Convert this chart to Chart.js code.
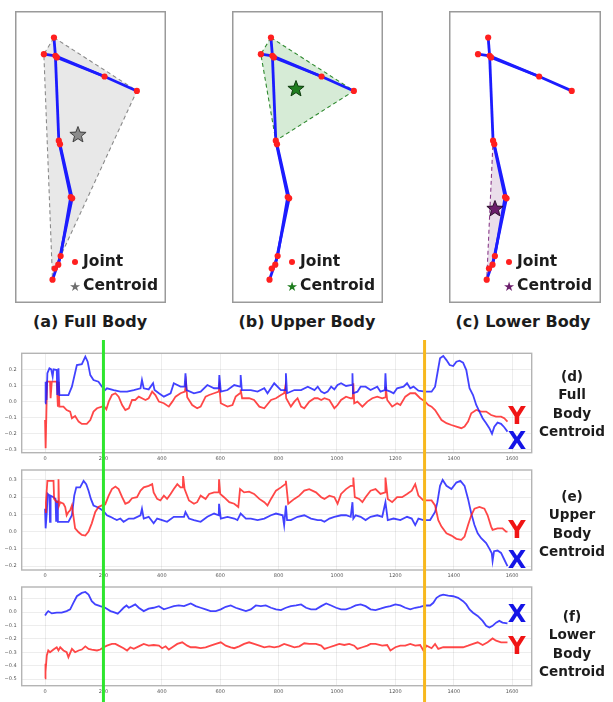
<!DOCTYPE html>
<html>
<head>
<meta charset="utf-8">
<script src="https://cdn.jsdelivr.net/npm/chart.js@4.4.1/dist/chart.umd.min.js"></script>
<style>
  html, body { margin: 0; padding: 0; background: #fff; }
  body { width: 613px; height: 702px; position: relative; overflow: hidden;
         font-family: "DejaVu Sans", sans-serif; color: #1c1c1c; }
  canvas { position: absolute; }
  .cap { position: absolute; font-weight: 700; font-size: 16px; white-space: nowrap;
         transform: translate(-50%, -50%); line-height: 1; }
  .leg { position: absolute; font-weight: 700; font-size: 15.5px; white-space: nowrap;
         line-height: 1; transform: translateY(-50%); }
  .dot { position: absolute; width: 6px; height: 6px; border-radius: 50%; background: #ff1f1f;
         transform: translate(-50%, -50%); }
  .star { position: absolute; font-size: 13px; line-height: 1; transform: translate(-50%, -50%); }
  .title { position: absolute; font-weight: 700; font-size: 13.6px; line-height: 18.3px;
           text-align: center; width: 90px; transform: translateX(-50%); }
  .axisTag { position: absolute; font-weight: 700; font-size: 24px; line-height: 1;
             transform: translate(-50%, -50%); }
</style>
</head>
<body>

<canvas id="skelA" width="151" height="292" style="left:15px;top:11px"></canvas>
<canvas id="skelB" width="151" height="292" style="left:232px;top:11px"></canvas>
<canvas id="skelC" width="152" height="292" style="left:449px;top:11px"></canvas>

<canvas id="seriesD" width="545" height="122" style="left:0;top:340px"></canvas>
<canvas id="seriesE" width="545" height="117" style="left:0;top:462px"></canvas>
<canvas id="seriesF" width="545" height="123" style="left:0;top:579px"></canvas>

<div class="cap" style="left:90px;top:322px">(a) Full Body</div>
<div class="cap" style="left:307px;top:322px">(b) Upper Body</div>
<div class="cap" style="left:523px;top:322px">(c) Lower Body</div>

<div id="legends"></div>

<div class="axisTag" style="left:517px;top:416px;color:#f01414">Y</div>
<div class="axisTag" style="left:517px;top:441px;color:#1414e6">X</div>
<div class="title" style="left:572px;top:367px">(d)<br>Full<br>Body<br>Centroid</div>

<div class="axisTag" style="left:517px;top:530px;color:#f01414">Y</div>
<div class="axisTag" style="left:517px;top:560px;color:#1414e6">X</div>
<div class="title" style="left:572px;top:487px">(e)<br>Upper<br>Body<br>Centroid</div>

<div class="axisTag" style="left:517px;top:614px;color:#1414e6">X</div>
<div class="axisTag" style="left:517px;top:646px;color:#f01414">Y</div>
<div class="title" style="left:572px;top:607px">(f)<br>Lower<br>Body<br>Centroid</div>

<script>
// ---------- skeleton (normalised image coordinates, y downwards) ----------
const jointX = [0.221, 0.144, 0.232, 0.243, 0.607, 0.854, 0.258, 0.267, 0.349, 0.360, 0.272, 0.254, 0.227, 0.210];
const jointY = [0.061, 0.122, 0.128, 0.134, 0.204, 0.257, 0.440, 0.453, 0.647, 0.652, 0.864, 0.896, 0.910, 0.951];
// bone chains as joint indices
const boneChains = [[0, 2], [1, 2, 4, 5], [3, 4], [2, 6], [6, 8, 10, 13], [7, 9, 11, 12]];
// convex hulls (joint indices) for each body part
const hullFull = [0, 5, 10, 13, 1];
const hullUpper = [0, 5, 6, 1];
const hullLower = [6, 9, 10, 13];
// centroids [x, y]
const centroidFull = [0.404, 0.419];
const centroidUpper = [0.412, 0.250];
const centroidLower = [0.272, 0.691];

// ---------- centroid trajectories: [frame, value] ----------
const frameTicks = [0, 200, 400, 600, 800, 1000, 1200, 1400, 1600];
const frameTickLabels = ['0', '200', '400', '600', '800', '1000', '1200', '1400', '1600'];
const markerFrames = [200, 1300];

const fullTicks = [-0.3, -0.2, -0.1, 0, 0.1, 0.2];
const fullTickLabels = ['\u22120.3', '\u22120.2', '\u22120.1', '0.0', '0.1', '0.2'];
const upperTicks = [-0.2, -0.1, 0, 0.1, 0.2, 0.3];
const upperTickLabels = ['\u22120.2', '\u22120.1', '0.0', '0.1', '0.2', '0.3'];
const lowerTicks = [-0.5, -0.4, -0.3, -0.2, -0.1, 0, 0.1];
const lowerTickLabels = ['\u22120.5', '\u22120.4', '\u22120.3', '\u22120.2', '\u22120.1', '0.0', '0.1'];

const fullX = [[0,-0.010],[2,0.124],[5,0.010],[8,0.176],[15,0.207],[21,0.200],[26,0.155],[29,0.200],[40,0.196],[42,0.041],[46,0.207],[49,0.041],[63,0.041],[80,0.041],[92,0.093],[109,0.227],[126,0.233],[138,0.279],[146,0.248],[155,0.165],[166,0.134],[183,0.124],[195,0.093],[206,0.072],[212,0.083],[235,0.072],[258,0.062],[281,0.062],[304,0.072],[327,0.083],[332,0.134],[338,0.083],[355,0.076],[370,0.114],[375,0.072],[390,0.052],[407,0.031],[430,0.052],[441,0.114],[464,0.093],[478,0.093],[481,0.176],[485,0.072],[510,0.052],[533,0.062],[556,0.103],[579,0.083],[595,0.083],[597,0.165],[602,0.062],[625,0.072],[648,0.103],[668,0.093],[670,0.165],[674,0.072],[705,0.072],[728,0.062],[751,0.083],[762,0.052],[785,0.114],[808,0.072],[823,0.072],[825,0.176],[829,0.052],[854,0.072],[877,0.072],[900,0.093],[923,0.072],[934,0.093],[946,0.062],[957,0.052],[968,0.062],[980,0.093],[991,0.076],[1002,0.103],[1014,0.114],[1031,0.097],[1047,0.103],[1052,0.103],[1053,0.176],[1055,0.052],[1070,0.062],[1081,0.093],[1098,0.093],[1115,0.072],[1138,0.093],[1149,0.062],[1164,0.072],[1166,0.176],[1169,0.072],[1183,0.062],[1194,0.052],[1206,0.083],[1228,0.093],[1240,0.114],[1251,0.083],[1262,0.093],[1279,0.068],[1302,0.062],[1324,0.062],[1336,0.093],[1344,0.176],[1353,0.269],[1364,0.283],[1375,0.258],[1386,0.227],[1398,0.221],[1409,0.248],[1420,0.254],[1432,0.242],[1443,0.196],[1454,0.083],[1466,0.041],[1477,-0.021],[1488,-0.062],[1499,-0.103],[1511,-0.134],[1522,-0.165],[1531,-0.200],[1539,-0.155],[1550,-0.130],[1562,-0.138],[1573,-0.159],[1584,-0.186]];

const fullY = [[0,-0.114],[2,-0.289],[5,-0.031],[7,0.124],[17,0.124],[19,0.021],[23,0.124],[40,0.124],[44,-0.031],[47,0.124],[49,-0.031],[63,-0.031],[74,-0.052],[86,-0.062],[92,-0.103],[103,-0.089],[115,-0.124],[126,-0.138],[143,-0.138],[155,-0.114],[166,-0.062],[178,-0.041],[195,-0.031],[203,-0.031],[210,-0.048],[218,0.000],[229,0.041],[241,0.052],[252,0.031],[264,-0.021],[275,-0.052],[287,-0.041],[298,0.010],[309,0.010],[321,0.031],[332,0.021],[344,0.010],[355,0.021],[367,0.062],[378,0.041],[390,0.000],[407,-0.010],[424,-0.031],[436,0.000],[447,0.031],[464,0.052],[479,0.062],[483,0.114],[487,0.027],[504,-0.021],[521,-0.041],[533,-0.031],[550,0.031],[562,0.041],[579,0.052],[595,0.062],[597,0.093],[602,-0.010],[625,-0.031],[642,-0.021],[653,0.031],[668,0.052],[670,0.076],[675,0.021],[699,0.021],[716,0.010],[734,-0.031],[751,-0.041],[774,0.010],[791,0.021],[808,0.041],[819,0.052],[823,0.093],[826,0.021],[842,-0.031],[854,0.000],[865,0.021],[877,-0.031],[888,-0.041],[905,0.000],[923,0.021],[934,0.021],[946,0.010],[957,0.021],[974,0.010],[991,-0.041],[1002,-0.021],[1014,0.010],[1031,0.031],[1047,0.021],[1054,0.021],[1056,0.114],[1059,-0.010],[1070,0.000],[1087,-0.031],[1104,0.000],[1121,0.021],[1138,0.031],[1155,0.021],[1165,0.027],[1167,0.093],[1172,0.010],[1189,-0.031],[1206,-0.010],[1217,-0.021],[1234,0.031],[1251,0.052],[1268,0.052],[1285,0.021],[1302,0.000],[1313,-0.021],[1324,-0.031],[1336,-0.052],[1347,-0.083],[1358,-0.114],[1375,-0.134],[1392,-0.145],[1409,-0.155],[1426,-0.165],[1437,-0.155],[1449,-0.124],[1460,-0.072],[1477,-0.052],[1494,-0.062],[1511,-0.062],[1528,-0.083],[1545,-0.093],[1562,-0.093],[1573,-0.103],[1584,-0.124]];

const upperX = [[0,0.133],[2,0.019],[6,0.114],[9,0.219],[15,0.209],[17,0.057],[19,0.209],[29,0.200],[36,0.190],[38,0.057],[41,0.181],[44,0.057],[69,0.057],[80,0.057],[92,0.095],[100,0.209],[107,0.257],[120,0.257],[132,0.295],[141,0.276],[149,0.238],[157,0.190],[166,0.152],[178,0.143],[189,0.133],[201,0.118],[212,0.095],[224,0.086],[235,0.076],[246,0.067],[258,0.076],[269,0.057],[287,0.076],[304,0.076],[327,0.095],[332,0.133],[338,0.076],[355,0.086],[372,0.048],[384,0.076],[401,0.067],[418,0.057],[441,0.086],[476,0.086],[481,0.114],[493,0.076],[510,0.067],[533,0.057],[556,0.086],[579,0.105],[595,0.095],[596,0.162],[602,0.076],[625,0.086],[648,0.076],[659,0.067],[670,0.105],[688,0.076],[705,0.076],[728,0.067],[751,0.076],[774,0.095],[791,0.105],[814,0.095],[819,0.038],[825,0.152],[829,0.067],[842,0.067],[865,0.086],[888,0.095],[911,0.076],[934,0.067],[946,0.067],[957,0.057],[974,0.076],[991,0.086],[1014,0.095],[1031,0.095],[1047,0.086],[1053,0.171],[1056,0.076],[1064,0.095],[1081,0.086],[1098,0.067],[1115,0.086],[1138,0.095],[1155,0.086],[1166,0.171],[1174,0.067],[1194,0.076],[1217,0.067],[1240,0.086],[1256,0.076],[1268,0.038],[1279,0.076],[1296,0.067],[1319,0.067],[1336,0.114],[1344,0.171],[1353,0.266],[1362,0.300],[1375,0.266],[1392,0.247],[1409,0.285],[1423,0.295],[1437,0.266],[1449,0.190],[1460,0.105],[1471,0.038],[1482,-0.010],[1494,-0.038],[1511,-0.067],[1522,-0.099],[1530,-0.124],[1533,-0.171],[1538,-0.114],[1550,-0.110],[1562,-0.124],[1573,-0.162],[1584,-0.200]];

const upperY = [[0,0.114],[3,0.171],[8,0.295],[29,0.295],[31,0.190],[40,0.171],[45,0.171],[46,0.304],[48,0.152],[52,0.171],[63,0.162],[69,0.143],[74,0.095],[80,0.114],[86,0.124],[92,0.152],[103,0.019],[115,-0.004],[126,-0.019],[138,-0.023],[149,0.000],[160,0.048],[172,0.114],[183,0.143],[195,0.152],[206,0.158],[218,0.209],[229,0.247],[241,0.262],[252,0.247],[264,0.200],[275,0.162],[287,0.171],[298,0.194],[315,0.200],[327,0.238],[338,0.257],[355,0.266],[367,0.276],[372,0.228],[384,0.190],[395,0.181],[407,0.209],[418,0.190],[430,0.219],[441,0.247],[453,0.276],[464,0.257],[472,0.257],[473,0.323],[478,0.247],[493,0.181],[510,0.162],[521,0.171],[533,0.209],[550,0.190],[562,0.219],[579,0.228],[595,0.228],[596,0.304],[600,0.219],[613,0.200],[631,0.171],[648,0.162],[662,0.143],[668,0.247],[682,0.228],[699,0.232],[716,0.219],[734,0.190],[751,0.171],[762,0.152],[774,0.190],[791,0.238],[808,0.257],[823,0.276],[825,0.295],[833,0.162],[854,0.190],[871,0.209],[888,0.238],[905,0.247],[928,0.228],[946,0.200],[957,0.190],[974,0.209],[991,0.200],[1002,0.162],[1014,0.219],[1031,0.247],[1047,0.266],[1055,0.266],[1056,0.314],[1061,0.200],[1076,0.190],[1087,0.171],[1098,0.200],[1115,0.238],[1132,0.247],[1149,0.219],[1165,0.228],[1166,0.314],[1174,0.190],[1189,0.171],[1206,0.200],[1223,0.200],[1240,0.219],[1256,0.238],[1268,0.276],[1279,0.209],[1296,0.181],[1313,0.181],[1324,0.181],[1336,0.152],[1347,0.067],[1358,0.029],[1375,-0.010],[1392,-0.023],[1409,-0.042],[1426,-0.048],[1437,-0.029],[1449,0.038],[1460,0.095],[1471,0.133],[1488,0.143],[1505,0.133],[1516,0.095],[1528,0.029],[1533,0.010],[1550,0.019],[1567,0.019],[1579,0.000],[1584,0.000]];

const lowerX = [[0,-0.025],[6,-0.005],[11,0.007],[23,-0.010],[40,-0.005],[57,-0.005],[74,0.007],[86,0.020],[97,0.069],[109,0.118],[126,0.143],[138,0.150],[149,0.130],[160,0.081],[172,0.057],[189,0.044],[206,0.032],[224,0.007],[235,0.000],[249,-0.012],[258,0.007],[269,0.032],[279,0.049],[287,0.032],[298,0.044],[309,0.057],[321,0.032],[338,0.007],[355,0.025],[372,0.032],[390,0.044],[407,0.020],[424,0.032],[441,0.044],[458,0.049],[476,0.044],[499,0.064],[516,0.044],[533,0.032],[550,0.020],[567,0.007],[585,0.007],[602,0.020],[619,0.039],[636,0.049],[653,0.032],[670,0.020],[688,0.007],[705,0.020],[722,0.049],[739,0.044],[756,0.049],[774,0.032],[791,0.020],[808,0.015],[825,0.032],[842,0.044],[860,0.049],[877,0.057],[894,0.032],[911,0.020],[928,0.020],[946,0.044],[963,0.064],[980,0.049],[997,0.032],[1014,0.020],[1031,0.020],[1047,0.032],[1064,0.049],[1081,0.057],[1098,0.044],[1115,0.020],[1132,0.015],[1149,0.025],[1166,0.037],[1183,0.044],[1200,0.057],[1217,0.049],[1234,0.032],[1251,0.020],[1268,0.032],[1285,0.039],[1302,0.049],[1319,0.049],[1330,0.069],[1341,0.106],[1353,0.123],[1364,0.130],[1381,0.123],[1398,0.118],[1415,0.106],[1432,0.081],[1443,0.057],[1454,0.020],[1466,-0.005],[1482,-0.029],[1499,-0.066],[1511,-0.103],[1522,-0.115],[1533,-0.103],[1545,-0.079],[1556,-0.066],[1567,-0.079],[1584,-0.084]];

const lowerY = [[0,-0.496],[1,-0.386],[2,-0.447],[6,-0.324],[11,-0.287],[17,-0.300],[29,-0.280],[40,-0.263],[46,-0.287],[52,-0.263],[63,-0.287],[74,-0.300],[80,-0.337],[92,-0.275],[103,-0.300],[115,-0.287],[126,-0.280],[138,-0.256],[149,-0.275],[160,-0.280],[178,-0.287],[189,-0.280],[201,-0.263],[212,-0.251],[229,-0.238],[241,-0.238],[252,-0.251],[269,-0.270],[281,-0.287],[292,-0.263],[304,-0.275],[321,-0.256],[338,-0.238],[355,-0.251],[372,-0.246],[390,-0.251],[401,-0.270],[413,-0.256],[424,-0.280],[436,-0.263],[453,-0.238],[470,-0.226],[487,-0.251],[499,-0.263],[516,-0.263],[533,-0.270],[550,-0.263],[567,-0.251],[585,-0.238],[602,-0.226],[619,-0.251],[636,-0.263],[648,-0.270],[665,-0.256],[682,-0.238],[699,-0.226],[716,-0.238],[734,-0.251],[751,-0.263],[768,-0.256],[785,-0.263],[802,-0.256],[819,-0.238],[837,-0.251],[854,-0.263],[871,-0.256],[888,-0.233],[905,-0.238],[928,-0.238],[946,-0.251],[957,-0.275],[974,-0.263],[991,-0.251],[1008,-0.238],[1025,-0.246],[1042,-0.238],[1059,-0.251],[1070,-0.275],[1087,-0.263],[1104,-0.251],[1115,-0.238],[1132,-0.238],[1155,-0.251],[1172,-0.246],[1183,-0.287],[1200,-0.263],[1217,-0.251],[1234,-0.251],[1251,-0.238],[1268,-0.251],[1285,-0.246],[1296,-0.287],[1307,-0.251],[1324,-0.270],[1336,-0.238],[1347,-0.275],[1364,-0.263],[1398,-0.263],[1432,-0.263],[1449,-0.251],[1466,-0.238],[1482,-0.226],[1499,-0.246],[1516,-0.226],[1533,-0.197],[1545,-0.214],[1562,-0.226],[1584,-0.226]];

// ---------- styling ----------
const BLUE = 'rgba(25,25,255,0.82)';
const RED = 'rgba(255,25,25,0.80)';
const markerColors = ['#2ee62e', '#f7b81e'];

// ---------- skeleton panels ----------
function starImage(fill, stroke) {
  const c = document.createElement('canvas');
  c.width = 22; c.height = 22;
  const g = c.getContext('2d');
  const R = 8.5, r = 3.6;
  g.beginPath();
  for (let i = 0; i < 10; i++) {
    const a = -Math.PI / 2 + i * Math.PI / 5;
    const rad = i % 2 === 0 ? R : r;
    const px = 11 + rad * Math.cos(a), py = 11 + rad * Math.sin(a);
    if (i === 0) g.moveTo(px, py); else g.lineTo(px, py);
  }
  g.closePath();
  g.fillStyle = fill; g.fill();
  g.lineWidth = 1; g.strokeStyle = stroke; g.stroke();
  return c;
}

const jointPt = i => ({ x: jointX[i], y: jointY[i] });

const panelFrame = {
  id: 'panelFrame',
  afterDraw(chart) {
    const { ctx, width, height } = chart;
    ctx.save();
    ctx.strokeStyle = '#9a9a9a';
    ctx.lineWidth = 1.5;
    ctx.strokeRect(0.75, 0.75, width - 1.5, height - 1.5);
    ctx.restore();
  }
};

function skeletonChart(id, hull, hullFill, hullLine, centroid, starFill, starStroke) {
  const datasets = [];
  datasets.push({
    label: 'Centroid', data: [{ x: centroid[0], y: centroid[1] }], showLine: false,
    pointStyle: starImage(starFill, starStroke), pointRadius: 9
  });
  datasets.push({
    label: 'Joint', data: jointX.map((_, i) => jointPt(i)), showLine: false,
    pointRadius: 3.1, pointBackgroundColor: '#ff1f1f', pointBorderWidth: 0, borderColor: '#ff1f1f'
  });
  boneChains.forEach(ch => datasets.push({
    label: 'bone', data: ch.map(jointPt), borderColor: '#1c1cff', borderWidth: 2.8,
    pointRadius: 0, tension: 0
  }));
  const hullPts = hull.map(jointPt);
  hullPts.push(jointPt(hull[0]));
  datasets.push({
    label: 'hull', data: hullPts, borderColor: hullLine, borderWidth: 1.1,
    borderDash: [4, 3], backgroundColor: hullFill, fill: 'shape', pointRadius: 0, tension: 0
  });
  return new Chart(document.getElementById(id), {
    type: 'line',
    data: { datasets },
    options: {
      responsive: false, animation: false, devicePixelRatio: 1,
      layout: { padding: 0 },
      plugins: { legend: { display: false }, tooltip: { enabled: false } },
      scales: {
        x: { type: 'linear', min: 0, max: 1, display: false },
        y: { type: 'linear', min: 0, max: 1, reverse: true, display: false }
      }
    },
    plugins: [panelFrame]
  });
}

skeletonChart('skelA', hullFull, 'rgba(150,150,150,0.22)', '#8a8a8a', centroidFull, '#8c8c8c', '#3c3c3c');
skeletonChart('skelB', hullUpper, 'rgba(70,165,70,0.22)', '#2f8a2f', centroidUpper, '#1f7d1f', '#0c3a0c');
skeletonChart('skelC', hullLower, 'rgba(150,90,150,0.2)', '#8a3c8a', centroidLower, '#6b1d6b', '#2a0a2a');

// legends inside the skeleton panels
const legendHost = document.getElementById('legends');
[[15, '#6e6e6e'], [232, '#1f7d1f'], [449, '#6b1d6b']].forEach(([left, col]) => {
  legendHost.insertAdjacentHTML('beforeend',
    `<div class="dot" style="left:${left + 60}px;top:262px"></div>` +
    `<div class="leg" style="left:${left + 68}px;top:262px">Joint</div>` +
    `<div class="star" style="left:${left + 60}px;top:286px;color:${col}">\u2605</div>` +
    `<div class="leg" style="left:${left + 68}px;top:286px">Centroid</div>`);
});

// ---------- trajectory panels ----------
const seriesFrame = {
  id: 'seriesFrame',
  afterDraw(chart) {
    const { ctx, chartArea: a } = chart;
    ctx.save();
    ctx.strokeStyle = '#b4b4b4';
    ctx.lineWidth = 1.4;
    ctx.strokeRect(a.left, a.top, a.right - a.left, a.bottom - a.top);
    const xs = chart.scales.x;
    markerFrames.forEach((f, i) => {
      const px = xs.getPixelForValue(f);
      ctx.strokeStyle = markerColors[i];
      ctx.lineWidth = 3;
      ctx.beginPath();
      ctx.moveTo(px, 0);
      ctx.lineTo(px, chart.height);
      ctx.stroke();
    });
    ctx.restore();
  }
};

function seriesChart(id, first, second, yMin, yMax, ticks, tickLabels, padTop, xAxisH) {
  const toPts = arr => arr.map(p => ({ x: p[0], y: p[1] }));
  const ds = s => ({
    data: toPts(s.data), borderColor: s.color, borderWidth: 1.8, pointRadius: 0, tension: 0, fill: false
  });
  return new Chart(document.getElementById(id), {
    type: 'line',
    data: { datasets: [ds(first), ds(second)] },
    options: {
      responsive: false, animation: false, devicePixelRatio: 1,
      layout: { padding: { top: padTop, right: 13.3, left: 0, bottom: 0 } },
      plugins: { legend: { display: false }, tooltip: { enabled: false } },
      scales: {
        x: {
          type: 'linear', min: -80, max: 1667,
          afterBuildTicks: ax => { ax.ticks = frameTicks.map(v => ({ value: v })); },
          afterFit: sc => { sc.height = xAxisH; },
          ticks: { callback: (v, i) => frameTickLabels[i], font: { size: 5, family: 'DejaVu Sans' },
                   color: '#555', padding: 3, maxRotation: 0, autoSkip: false },
          grid: { color: 'rgba(0,0,0,0.07)', drawTicks: false },
          border: { display: false }
        },
        y: {
          type: 'linear', min: yMin, max: yMax,
          afterBuildTicks: ax => { ax.ticks = ticks.map(v => ({ value: v })); },
          afterFit: sc => { sc.width = 21.7; },
          ticks: { callback: (v, i) => tickLabels[i], font: { size: 5, family: 'DejaVu Sans' },
                   color: '#555', padding: 5 },
          grid: { color: 'rgba(0,0,0,0.07)', drawTicks: false },
          border: { display: false }
        }
      }
    },
    plugins: [seriesFrame]
  });
}

seriesChart('seriesD', { data: fullX, color: BLUE }, { data: fullY, color: RED },
  -0.317, 0.30, fullTicks, fullTickLabels, 13.3, 9.3);
seriesChart('seriesE', { data: upperY, color: RED }, { data: upperX, color: BLUE },
  -0.223, 0.358, upperTicks, upperTickLabels, 6.3, 9);
seriesChart('seriesF', { data: lowerX, color: BLUE }, { data: lowerY, color: RED },
  -0.55, 0.187, lowerTicks, lowerTickLabels, 7, 16.3);
</script>
</body>
</html>
